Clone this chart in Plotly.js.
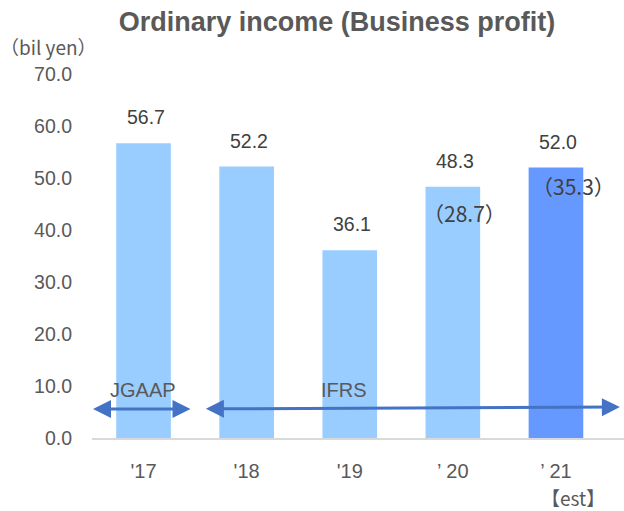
<!DOCTYPE html>
<html><head><meta charset="utf-8">
<script src="https://cdn.plot.ly/plotly-3.0.1.min.js"></script>
<style>body{margin:0;padding:0;background:#fff}#chart{width:624px;height:511px}</style>
</head><body><div id="chart"></div>
<script>
const categories = ["'17", "'18", "'19", "’ 20", "’ 21"];
const values = [56.7, 52.2, 36.1, 48.3, 52.0];
const ifrsValues = [null, null, null, 28.7, 35.3];
const barColors = ["#99CCFF", "#99CCFF", "#99CCFF", "#99CCFF", "#6699FF"];
const yTicks = [0, 10, 20, 30, 40, 50, 60, 70];

const FONT = "Liberation Sans, Arial, Noto Sans CJK JP, sans-serif";
const CJK = "'Noto Sans CJK JP', 'Noto Sans CJK SC', sans-serif";
const GRAY = "#595959";

const annotations = [];
values.forEach((v, i) => {
  annotations.push({x: i, y: v, xref: 'x', yref: 'y', text: v.toFixed(1), showarrow: false,
    yshift: 26, xshift: 2, font: {family: FONT, size: 19.5, color: "#404040"}});
});
const subShift = [0, 0, 0, -26, -18];
const subX = [0, 0, 0, 12, 18];
ifrsValues.forEach((v, i) => {
  if (v === null) return;
  annotations.push({x: i, y: values[i], xref: 'x', yref: 'y',
    text: "（" + v.toFixed(1) + "）",
    showarrow: false, yshift: subShift[i], xshift: subX[i], font: {family: CJK, size: 21, color: "#404040"}});
});
// est label
annotations.push({x: 4, y: 0, xref: 'x', yref: 'y', text: "【est】", showarrow: false, yshift: -59, xshift: 17,
  font: {family: CJK, size: 19, color: GRAY}});
// unit label
annotations.push({x: 0, y: 1, xref: 'paper', yref: 'paper', xanchor: 'center', yanchor: 'middle',
  text: "（bil yen）", showarrow: false, xshift: -44, yshift: 28,
  font: {family: CJK, size: 19, color: GRAY}});
// JGAAP / IFRS arrows
const arrowColor = "#4472C4";
annotations.push({x: -0.49, y: 5.6, ax: 0.47, ay: 5.6, xref: 'x', yref: 'y', axref: 'x', ayref: 'y',
  text: "", showarrow: true, arrowside: 'end+start', arrowhead: 2, arrowsize: 1.2, arrowwidth: 3, arrowcolor: arrowColor});
annotations.push({x: 4.62, y: 5.95, ax: 0.59, ay: 5.6, xref: 'x', yref: 'y', axref: 'x', ayref: 'y',
  text: "", showarrow: true, arrowside: 'end+start', arrowhead: 2, arrowsize: 1.2, arrowwidth: 3, arrowcolor: arrowColor});
annotations.push({x: -0.01, y: 9.3, xref: 'x', yref: 'y', text: "JGAAP", showarrow: false,
  font: {family: FONT, size: 20, color: GRAY}});
annotations.push({x: 1.94, y: 9.3, xref: 'x', yref: 'y', text: "IFRS", showarrow: false,
  font: {family: FONT, size: 20, color: GRAY}});

const trace = {
  type: 'bar', x: [0, 1, 2, 3, 4], y: values,
  marker: {color: barColors}, width: 0.53, hoverinfo: 'skip'
};

const layout = {
  width: 624, height: 511,
  margin: {l: 92, r: 0, t: 74, b: 73},
  paper_bgcolor: '#fff', plot_bgcolor: '#fff',
  showlegend: false,
  title: {text: "Ordinary income (Business profit)", x: 337/624, xanchor: 'center', xref: 'container',
    y: 1 - 22/511, yanchor: 'middle', yref: 'container',
    font: {family: "Liberation Sans, Arial, sans-serif", size: 27, color: GRAY, weight: 'bold'}},
  xaxis: {
    range: [-0.5, 4.66], tickmode: 'array', tickvals: [0, 1, 2, 3, 4], ticktext: categories,
    showgrid: false, zeroline: false, showline: true, linecolor: '#d9d9d9', linewidth: 2,
    ticks: '', ticklabelstandoff: 14, tickfont: {family: FONT, size: 20, color: GRAY}, fixedrange: true
  },
  yaxis: {
    range: [0, 70], tickmode: 'array', tickvals: yTicks, ticktext: yTicks.map(v => v.toFixed(1)),
    showgrid: false, zeroline: false, showline: false, ticks: '', ticklabelstandoff: 19,
    tickfont: {family: FONT, size: 19.5, color: GRAY}, fixedrange: true
  },
  annotations: annotations
};

Plotly.newPlot('chart', [trace], layout, {displayModeBar: false, staticPlot: true});
</script></body></html>
